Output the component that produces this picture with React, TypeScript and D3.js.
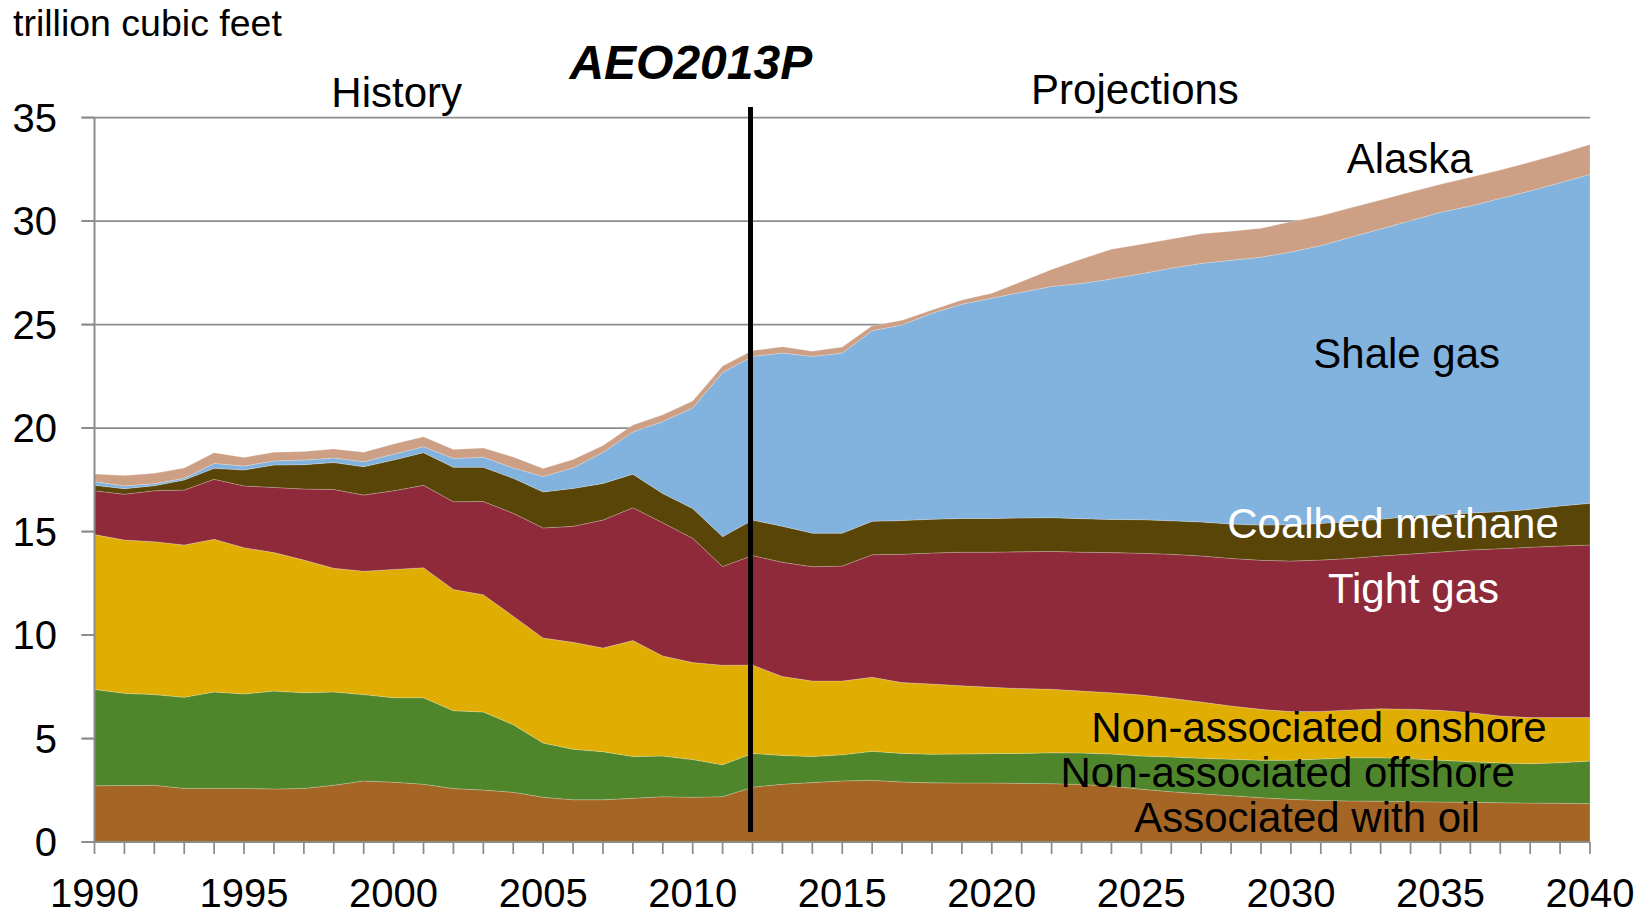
import React from "react";
import * as d3 from "d3";

// ---- Data (trillion cubic feet), years 1990..2040 ----
const years: number[] = d3.range(1990, 2041);

const associatedWithOil = [2.72,2.73,2.74,2.59,2.59,2.59,2.56,2.59,2.74,2.95,2.89,2.79,2.58,2.51,2.40,2.16,2.04,2.04,2.11,2.19,2.16,2.19,2.65,2.79,2.87,2.95,2.98,2.90,2.86,2.85,2.85,2.83,2.82,2.78,2.70,2.55,2.43,2.33,2.24,2.14,2.06,2.01,1.98,1.97,1.95,1.93,1.92,1.90,1.88,1.87,1.85];
const nonAssocOffshore = [4.65,4.45,4.38,4.40,4.66,4.56,4.73,4.62,4.51,4.17,4.08,4.18,3.76,3.77,3.27,2.62,2.44,2.32,2.02,1.96,1.82,1.54,1.63,1.39,1.26,1.26,1.40,1.38,1.38,1.40,1.42,1.45,1.49,1.52,1.55,1.60,1.68,1.71,1.76,1.81,1.89,2.00,2.09,2.10,2.07,2.02,1.96,1.92,1.90,1.96,2.06];
const nonAssocOnshore = [7.48,7.41,7.39,7.36,7.37,7.07,6.69,6.41,5.97,5.96,6.20,6.28,5.86,5.66,5.24,5.07,5.17,5.01,5.60,4.84,4.69,4.81,4.27,3.81,3.65,3.57,3.58,3.42,3.39,3.30,3.20,3.13,3.07,2.99,2.96,2.95,2.83,2.72,2.57,2.46,2.35,2.30,2.31,2.37,2.39,2.41,2.37,2.27,2.23,2.18,2.10];
const tightGas = [2.12,2.21,2.46,2.65,2.90,2.98,3.15,3.43,3.81,3.68,3.80,3.98,4.24,4.51,4.97,5.32,5.60,6.18,6.42,6.43,6.00,4.77,5.29,5.52,5.52,5.55,5.92,6.20,6.33,6.45,6.53,6.61,6.66,6.71,6.77,6.85,6.96,7.06,7.13,7.20,7.27,7.31,7.32,7.38,7.50,7.65,7.86,8.08,8.23,8.29,8.34];
const coalbedMethane = [0.26,0.27,0.24,0.49,0.53,0.77,1.08,1.18,1.30,1.37,1.48,1.58,1.66,1.65,1.69,1.74,1.83,1.77,1.62,1.41,1.44,1.44,1.71,1.74,1.62,1.59,1.61,1.63,1.63,1.63,1.63,1.63,1.63,1.62,1.60,1.62,1.62,1.64,1.66,1.70,1.76,1.77,1.79,1.77,1.81,1.80,1.78,1.79,1.83,1.93,2.01];
const shaleGas = [0.18,0.13,0.10,0.08,0.24,0.19,0.20,0.22,0.22,0.24,0.28,0.29,0.43,0.49,0.50,0.75,0.99,1.50,2.04,3.48,4.86,7.93,7.91,8.37,8.54,8.70,9.21,9.45,9.95,10.35,10.64,10.91,11.17,11.36,11.62,11.88,12.20,12.49,12.74,12.94,13.17,13.42,13.73,14.02,14.29,14.61,14.83,15.13,15.38,15.62,15.89];
const alaska = [0.37,0.50,0.50,0.50,0.52,0.42,0.42,0.41,0.44,0.46,0.50,0.48,0.43,0.44,0.53,0.38,0.41,0.33,0.33,0.33,0.33,0.31,0.28,0.30,0.25,0.29,0.24,0.22,0.16,0.20,0.24,0.52,0.82,1.19,1.43,1.43,1.41,1.43,1.40,1.40,1.46,1.44,1.42,1.41,1.39,1.35,1.39,1.37,1.40,1.40,1.45];

const seriesKeys = ["oil", "offshore", "onshore", "tight", "coalbed", "shale", "alaska"];
const seriesColors = ["#A56625", "#4F862C", "#E0AE03", "#8F2A3A", "#594508", "#82B3DE", "#CDA086"];

const yTicks = [0, 5, 10, 15, 20, 25, 30, 35];
const xLabelYears = [1990, 1995, 2000, 2005, 2010, 2015, 2020, 2025, 2030, 2035, 2040];
const dividerYear = 2012;

const FONT = "'Liberation Sans', Arial, Helvetica, sans-serif";

export default function App() {
  const W = 1651, H = 913;
  const x = d3.scaleLinear().domain([1990, 2040]).range([94.5, 1590]);
  const y = d3.scaleLinear().domain([0, 35]).range([842, 117.5]);

  const rows = years.map((yr, i) => ({
    year: yr,
    oil: associatedWithOil[i],
    offshore: nonAssocOffshore[i],
    onshore: nonAssocOnshore[i],
    tight: tightGas[i],
    coalbed: coalbedMethane[i],
    shale: shaleGas[i],
    alaska: alaska[i],
  }));
  const stacked = d3.stack<any>().keys(seriesKeys)(rows);
  const area = d3
    .area<any>()
    .x((d) => x(d.data.year))
    .y0((d) => y(d[0]))
    .y1((d) => y(d[1]));

  const grid = "#8C8C8C";

  return (
    <svg
      width={W}
      height={H}
      style={{ position: "absolute", left: 0, top: 0, background: "#fff" }}
      fontFamily={FONT}
    >
      {/* gridlines */}
      {yTicks.filter((t) => t > 0).map((t) => (
        <line key={"g" + t} x1={81.5} x2={1590} y1={y(t)} y2={y(t)} stroke={grid} strokeWidth={1.75} />
      ))}
      {/* areas */}
      {stacked.map((s, i) => (
        <path
          key={s.key}
          d={area(s as any) || ""}
          fill={seriesColors[i]}
          stroke="rgba(255,255,255,0.25)"
          strokeWidth={0.8}
        />
      ))}
      {/* axes */}
      <line x1={x(1990)} x2={x(1990)} y1={y(35)} y2={y(0)} stroke={grid} strokeWidth={2} />
      <line x1={81.5} x2={1590} y1={y(0)} y2={y(0)} stroke={grid} strokeWidth={2} />
      {yTicks.map((t) => (
        <line key={"yt" + t} x1={81.5} x2={x(1990)} y1={y(t)} y2={y(t)} stroke={grid} strokeWidth={1.75} />
      ))}
      {years.map((yr) => (
        <line key={"xt" + yr} x1={x(yr)} x2={x(yr)} y1={y(0)} y2={y(0) + 12} stroke={grid} strokeWidth={1.75} />
      ))}
      {/* tick labels */}
      {yTicks.map((t) => (
        <text key={"yl" + t} x={57} y={y(t) + 14.3} fontSize={40} textAnchor="end" fill="#000">
          {t}
        </text>
      ))}
      {xLabelYears.map((yr) => (
        <text key={"xl" + yr} x={x(yr)} y={906.5} fontSize={40} textAnchor="middle" fill="#000">
          {yr}
        </text>
      ))}
      {/* divider */}
      <line x1={x(dividerYear) - 2} x2={x(dividerYear) - 2} y1={107} y2={832} stroke="#000" strokeWidth={5} />
      {/* titles */}
      <text x={13} y={36} fontSize={37.5} fill="#000">trillion cubic feet</text>
      <text x={396.7} y={107.3} fontSize={42} textAnchor="middle" fill="#000">History</text>
      <text x={1135} y={104.3} fontSize={42} textAnchor="middle" fill="#000">Projections</text>
      <text x={690.8} y={79.3} fontSize={48} fontWeight="bold" fontStyle="italic" textAnchor="middle" fill="#000">AEO2013P</text>
      {/* series labels */}
      <text x={1409.7} y={173.3} fontSize={42} textAnchor="middle" fill="#000">Alaska</text>
      <text x={1406.7} y={368.3} fontSize={42} textAnchor="middle" fill="#000">Shale gas</text>
      <text x={1393} y={537.7} fontSize={42} textAnchor="middle" fill="#fff">Coalbed methane</text>
      <text x={1413.5} y={603.3} fontSize={42} textAnchor="middle" fill="#fff">Tight gas</text>
      <text x={1319} y={741.7} fontSize={42} textAnchor="middle" fill="#000">Non-associated onshore</text>
      <text x={1287.7} y={786.7} fontSize={42} textAnchor="middle" fill="#000">Non-associated offshore</text>
      <text x={1307} y={831.7} fontSize={42} textAnchor="middle" fill="#000">Associated with oil</text>
    </svg>
  );
}
